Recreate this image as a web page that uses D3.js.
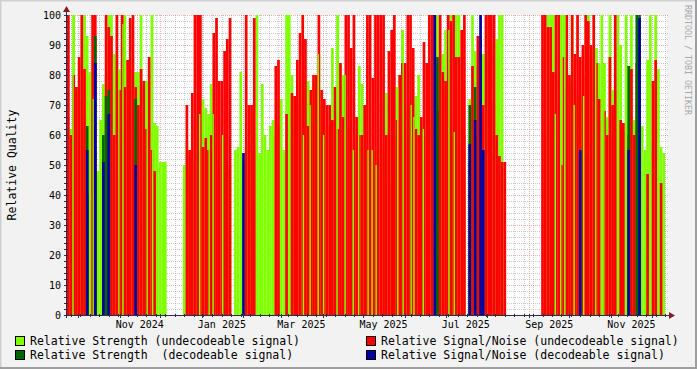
<!DOCTYPE html>
<html>
<head>
<meta charset="utf-8">
<script src="https://cdn.jsdelivr.net/npm/d3@7"></script>
<style>
  html, body { margin: 0; padding: 0; background: #f2f2f2; }
  svg text { font-family: "DejaVu Sans Mono", monospace; white-space: pre; }
</style>
</head>
<body>
<div id="chart"></div>
<script>
// one value every 2 days, starting 2024-09-23
const binStart = Date.UTC(2024, 8, 23)
const binDays = 2

// Relative Strength (undecodeable signal)
const strengthUndec = [
  62, 62, 100, 75, 72, 72, 100, 93, 81, 72, 70, 48, 65, 77, 80, 100, 100, 87, 85, 82,
  97, 100, 65, 82, 64, 81, 81, 100, 71, 78, 64, 100, 64, 63, 51, 51, 51, 0, 0, 0,
  0, 0, 0, 50, 58, 51, 51, 55, 67, 67, 72, 69, 67, 77, 67, 60, 56, 60, 50, 48,
  50, 0, 55, 56, 81, 50, 56, 57, 55, 55, 100, 54, 77, 60, 55, 63, 65, 60, 63, 72,
  55, 100, 100, 80, 72, 72, 78, 60, 78, 78, 70, 78, 65, 87, 70, 60, 62, 63, 89, 70,
  100, 62, 80, 80, 62, 55, 55, 60, 83, 77, 60, 55, 55, 55, 50, 0, 55, 55, 74, 61,
  44, 60, 76, 80, 95, 60, 70, 70, 66, 73, 80, 62, 62, 60, 65, 0, 0, 100, 70, 87,
  95, 95, 100, 61, 100, 100, 75, 60, 0, 72, 100, 88, 83, 70, 87, 87, 100, 70, 90, 92,
  100, 100, 0, 0, 0, 0, 0, 0, 0, 0, 0, 0, 0, 0, 0, 0, 0, 60, 100, 100,
  100, 67, 61, 100, 100, 77, 77, 100, 70, 73, 73, 73, 80, 100, 70, 89, 89, 84, 100, 84,
  66, 100, 75, 75, 100, 90, 61, 100, 83, 100, 65, 63, 0, 63, 55, 85, 100, 58, 100, 82,
  56, 54, 0
]

// Relative Signal/Noise (undecodeable signal)
const snrUndec = [
  100, 60, 80, 76, 86, 100, 82, 40, 0, 100, 100, 0, 0, 0, 100, 96, 93, 60, 100, 75,
  100, 76, 85, 99, 100, 76, 70, 82, 78, 62, 86, 55, 48, 0, 0, 0, 0, 0, 0, 0,
  0, 0, 0, 0, 70, 55, 74, 100, 100, 100, 56, 59, 55, 60, 94, 99, 78, 78, 88, 92,
  99, 0, 0, 0, 0, 0, 100, 70, 70, 99, 0, 0, 0, 0, 0, 0, 0, 83, 85, 0,
  0, 67, 0, 74, 73, 85, 94, 100, 92, 63, 75, 80, 80, 100, 75, 72, 70, 70, 65, 76,
  62, 84, 66, 100, 100, 89, 100, 66, 60, 60, 70, 100, 100, 79, 100, 100, 100, 100, 60, 88,
  95, 100, 65, 80, 84, 84, 100, 100, 89, 62, 60, 66, 91, 84, 100, 100, 100, 68, 100, 81,
  78, 100, 98, 100, 86, 86, 95, 100, 0, 50, 83, 60, 93, 93, 70, 100, 100, 100, 100, 60,
  53, 51, 51, 0, 0, 0, 0, 0, 0, 0, 0, 0, 0, 0, 0, 0, 100, 100, 96, 96,
  81, 100, 100, 50, 86, 100, 80, 100, 87, 100, 86, 90, 100, 98, 90, 100, 84, 72, 0, 68,
  60, 86, 70, 100, 0, 65, 64, 0, 60, 82, 60, 84, 89, 0, 0, 47, 0, 78, 85, 0,
  44, 0, 0
]

// days (counted from binStart) with no S/N reading, strength only
const snrGapDays = [4, 19, 38, 41, 59, 63, 98, 105, 108, 115, 175, 180, 186, 190, 200, 206,
  212, 216, 223, 226, 229, 245, 249, 255, 257, 264, 283, 287, 362, 366, 369, 376, 383, 392, 398]

// decodeable signal: [bin, value]
const strengthDec = [[7, 63], [10, 93], [13, 60], [14, 73], [15, 75], [25, 72], [137, 86],
  [149, 70], [151, 76], [208, 83], [211, 100], [212, 100]]
const snrDec = [[7, 55], [10, 84], [13, 51], [15, 67], [25, 50], [65, 54], [136, 100],
  [149, 57], [151, 65], [153, 100], [154, 55], [190, 55], [208, 55], [212, 99]]

const xLabels = ["Nov 2024", "Jan 2025", "Mar 2025", "May 2025", "Jul 2025", "Sep 2025", "Nov 2025"]
const yTicks = [0, 10, 20, 30, 40, 50, 60, 70, 80, 90, 100]

const legendItems = [
  { name: "Relative Strength (undecodeable signal)", color: "#80ff00" },
  { name: "Relative Signal/Noise (undecodeable signal)", color: "#ff0000" },
  { name: "Relative Strength  (decodeable signal)", color: "#006600" },
  { name: "Relative Signal/Noise (decodeable signal)", color: "#0000a0" }
]

const W = 697, H = 369
const DAY = 864e5
const pLeft = 67, pRight = 667, pTop = 15, pBottom = 315

const x = d3.scaleUtc()
  .domain([new Date(binStart), new Date(binStart + 445.4 * DAY)])
  .range([pLeft, pRight])
const y = d3.scaleLinear().domain([0, 100]).range([pBottom, pTop])

const binDate = i => new Date(binStart + i * binDays * DAY)
const dayDate = d => new Date(binStart + d * DAY)

const svg = d3.select("#chart").append("svg")
  .attr("width", W)
  .attr("height", H)

// background + shade frame
svg.append("rect").attr("width", W).attr("height", H).attr("fill", "#f2f2f2")
svg.append("path").attr("d", `M0,${H} V0 H${W}`).attr("fill", "none").attr("stroke", "#cfcfcf").attr("stroke-width", 3)
svg.append("path").attr("d", `M0,${H - 1} H${W - 1} V0`).attr("fill", "none").attr("stroke", "#9e9e9e").attr("stroke-width", 2)

// canvas
svg.append("rect")
  .attr("x", pLeft).attr("y", pTop)
  .attr("width", pRight - pLeft).attr("height", pBottom - pTop)
  .attr("fill", "#ffffff")

// grid, under the data
const grid = svg.append("g").attr("shape-rendering", "crispEdges")
const minorY = d3.range(0, 101, 2).filter(v => v % 10 !== 0)
grid.selectAll(".hmin").data(minorY).enter().append("line")
  .attr("x1", pLeft).attr("x2", pRight + 2)
  .attr("y1", d => Math.round(y(d)) + 0.5).attr("y2", d => Math.round(y(d)) + 0.5)
  .attr("stroke", "rgba(143,143,143,0.45)").attr("stroke-dasharray", "1,1")
const weeks = d3.utcThursday.range(x.domain()[0], x.domain()[1])
grid.selectAll(".vmin").data(weeks).enter().append("line")
  .attr("x1", d => Math.round(x(d)) + 0.5).attr("x2", d => Math.round(x(d)) + 0.5)
  .attr("y1", pTop).attr("y2", pBottom)
  .attr("stroke", "rgba(143,143,143,0.45)").attr("stroke-dasharray", "1,1")
grid.selectAll(".hmaj").data(yTicks).enter().append("line")
  .attr("x1", pLeft).attr("x2", pRight + 2)
  .attr("y1", d => Math.round(y(d)) + 0.5).attr("y2", d => Math.round(y(d)) + 0.5)
  .attr("stroke", "rgba(222,80,80,0.45)").attr("stroke-dasharray", "1,1")
const months = d3.utcMonth.range(x.domain()[0], x.domain()[1])
grid.selectAll(".vmaj").data(months).enter().append("line")
  .attr("x1", d => Math.round(x(d)) + 0.5).attr("x2", d => Math.round(x(d)) + 0.5)
  .attr("y1", pTop).attr("y2", pBottom)
  .attr("stroke", "rgba(222,80,80,0.45)").attr("stroke-dasharray", "1,1")

// bars
function drawFull(values, color) {
  svg.append("g").selectAll("rect")
    .data(values.map((v, i) => ({ i, v })).filter(d => d.v > 0))
    .enter().append("rect")
      .attr("x", d => x(binDate(d.i)))
      .attr("width", d => x(binDate(d.i + 1)) - x(binDate(d.i)))
      .attr("y", d => y(d.v))
      .attr("height", d => y(0) - y(d.v))
      .attr("fill", color)
}
function drawSparse(pairs, color) {
  svg.append("g").selectAll("rect")
    .data(pairs)
    .enter().append("rect")
      .attr("x", d => x(binDate(d[0])))
      .attr("width", d => x(binDate(d[0] + 1)) - x(binDate(d[0])))
      .attr("y", d => y(d[1]))
      .attr("height", d => y(0) - y(d[1]))
      .attr("fill", color)
}
drawFull(strengthUndec, legendItems[0].color)
drawFull(snrUndec, legendItems[1].color)

// strength showing through on days without an S/N value
svg.append("g").selectAll("rect")
  .data(snrGapDays.map(d => ({ d, v: strengthUndec[Math.floor(d / binDays)] })).filter(e => e.v > 0))
  .enter().append("rect")
    .attr("x", e => x(dayDate(e.d)))
    .attr("width", e => x(dayDate(e.d + 1)) - x(dayDate(e.d)))
    .attr("y", e => y(e.v))
    .attr("height", e => y(0) - y(e.v))
    .attr("fill", legendItems[0].color)

drawSparse(strengthDec, legendItems[2].color)
drawSparse(snrDec, legendItems[3].color)

// axes
const axis = svg.append("g").attr("shape-rendering", "crispEdges").attr("stroke", "#2c2c4d")
axis.append("line").attr("x1", pLeft - 3).attr("x2", pRight + 3).attr("y1", pBottom + 0.5).attr("y2", pBottom + 0.5)
axis.append("line").attr("x1", pLeft - 0.5).attr("x2", pLeft - 0.5).attr("y1", pTop - 4).attr("y2", pBottom + 3)
axis.selectAll(".yt").data(d3.range(0, 101, 2)).enter().append("line")
  .attr("x1", pLeft - 3).attr("x2", pLeft + 1)
  .attr("y1", d => Math.round(y(d)) + 0.5).attr("y2", d => Math.round(y(d)) + 0.5)
axis.selectAll(".xt").data(months).enter().append("line")
  .attr("x1", d => Math.round(x(d)) + 0.5).attr("x2", d => Math.round(x(d)) + 0.5)
  .attr("y1", pBottom - 1).attr("y2", pBottom + 3)
axis.selectAll(".xw").data(weeks).enter().append("line")
  .attr("x1", d => Math.round(x(d)) + 0.5).attr("x2", d => Math.round(x(d)) + 0.5)
  .attr("y1", pBottom - 1).attr("y2", pBottom + 2)

// arrows
svg.append("path").attr("d", `M${pRight + 2},${pBottom - 3} L${pRight + 8},${pBottom + 0.5} L${pRight + 2},${pBottom + 4} Z`).attr("fill", "#7f1f1f")
svg.append("path").attr("d", `M${pLeft - 4},${pTop - 3} L${pLeft - 0.5},${pTop - 9} L${pLeft + 3},${pTop - 3} Z`).attr("fill", "#7f1f1f")

// y labels
svg.append("g").selectAll("text").data(yTicks).enter().append("text")
  .attr("x", pLeft - 6).attr("y", d => y(d) + 3.5)
  .attr("text-anchor", "end").attr("font-size", 10).attr("fill", "#000")
  .text(d => d)

// x labels every second month, centred mid-month
const labelDates = months.filter(m => [10, 0, 2, 4, 6, 8].includes(m.getUTCMonth()))
svg.append("g").selectAll("text").data(labelDates).enter().append("text")
  .attr("x", d => x(new Date(+d + 15 * DAY)))
  .attr("y", pBottom + 13)
  .attr("text-anchor", "middle").attr("font-size", 10).attr("fill", "#000")
  .text((d, i) => xLabels[i])

// y title
svg.append("text")
  .attr("transform", `translate(16,${(pTop + pBottom) / 2}) rotate(-90)`)
  .attr("text-anchor", "middle").attr("font-size", 11.5)
  .text("Relative Quality")

// watermark
svg.append("text")
  .attr("transform", `translate(685,5) rotate(90)`)
  .attr("font-size", 8.3).attr("fill", "#a8a8a8")
  .text("RRDTOOL / TOBI OETIKER")

// legend
const leg = svg.append("g").selectAll("g").data(legendItems).enter().append("g")
  .attr("transform", (d, i) => `translate(${i % 2 === 0 ? 15 : 366},${i < 2 ? 336 : 350})`)
leg.append("rect").attr("x", 0.5).attr("y", 0.5).attr("width", 9).attr("height", 9)
  .attr("fill", d => d.color).attr("stroke", "#000")
leg.append("text").attr("x", 15).attr("y", 9).attr("font-size", 11.5).text(d => d.name)
</script>
</body>
</html>
